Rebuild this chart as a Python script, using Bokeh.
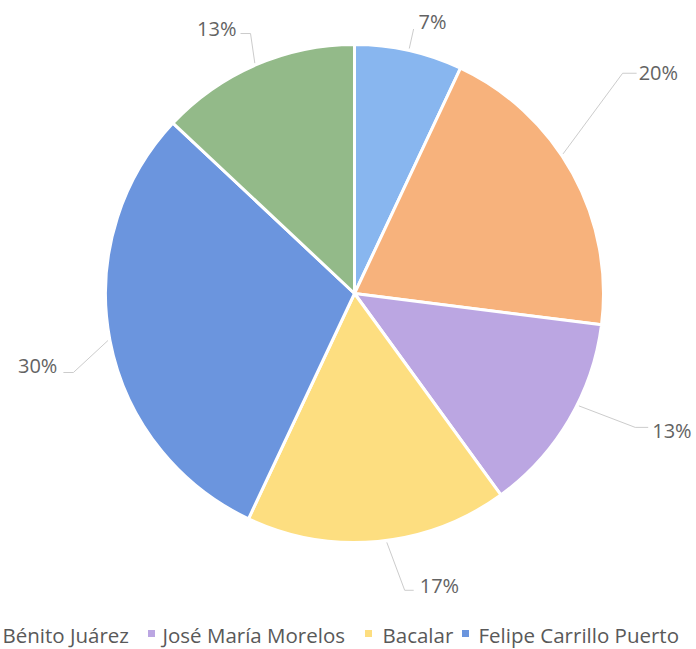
import math
from bokeh.plotting import figure
from bokeh.models import Range1d, ColumnDataSource
from bokeh.embed import file_html
from bokeh.resources import INLINE
from bokeh.core.properties import value

# ---- data ----
categories = ["Otro", "Bénito Juárez", "José María Morelos", "Bacalar",
              "Felipe Carrillo Puerto", "Otros"]
values = [7, 20, 13, 17, 30, 13]
pct_labels = ["7%", "20%", "13%", "17%", "30%", "13%"]
colors = ["#88b6ef", "#f7b27c", "#bba6e2", "#fdde80", "#6b95de", "#93ba89"]
legend_shown = [1, 2, 3, 4]          # entries of the legend visible in the picture

# ---- layout (picture pixel coordinates, y measured downward) ----
W, H = 696, 649
CX, CY, R = 354, 293, 249


def py(y):
    return H - y


p = figure(width=W, height=H, output_backend="svg", toolbar_location=None,
           x_range=Range1d(0, W), y_range=Range1d(0, H), min_border=0)
p.axis.visible = False
p.grid.visible = False
p.outline_line_color = None
p.background_fill_color = "white"
p.border_fill_color = "white"

total = float(sum(values))
starts, ends, mids = [], [], []
cum = 0.0
for v in values:
    a0 = cum / total * 360.0
    cum += v
    a1 = cum / total * 360.0
    starts.append(math.radians(90.0 - a0))
    ends.append(math.radians(90.0 - a1))
    mids.append((a0 + a1) / 2.0)

src = ColumnDataSource(dict(start=starts, end=ends, color=colors, cat=categories, val=values))
p.wedge(x=CX, y=py(CY), radius=R, start_angle="start", end_angle="end",
        direction="clock", fill_color="color", line_color="white", line_width=3,
        source=src)

# leader lines: start angle tweak, elbow (clockwise-from-top angle, distance), tick, text offset
lead_start = [mids[0], mids[1] - 5, mids[2] - 4, mids[3] - 2, mids[4], mids[5]]
elbow_ang = [12.6, 50.6, 115.5, 170.4, 254.3, 338.2]
elbow_dist = [271, 347, 311, 301, 292, 280]
tick = [0, 14, 13, 9, -10, -10]
text_dx = [5, 2, 4, 6, -6, -4]
text_dy = [-8, -1, 3, -5, -7, -5]


def pol(ang, d):
    a = math.radians(ang)
    return CX + d * math.sin(a), CY - d * math.cos(a)


lx, ly, tx, ty, talign = [], [], [], [], []
for i in range(len(values)):
    sx, sy = pol(lead_start[i], R + 2)
    ex, ey = pol(elbow_ang[i], elbow_dist[i])
    fx = ex + tick[i]
    lx.append([sx, ex, fx])
    ly.append([py(sy), py(ey), py(ey)])
    right = (elbow_ang[i] < 180)
    tx.append(fx + text_dx[i])
    ty.append(py(ey + text_dy[i]))
    talign.append("left" if right else "right")

p.multi_line(xs=lx, ys=ly, line_color="#cccccc", line_width=1)
lab = ColumnDataSource(dict(x=tx, y=ty, t=pct_labels, a=talign))
p.text(x="x", y="y", text="t", text_align="a", text_baseline="middle",
       text_font=value("Open Sans"), text_font_size="20px", text_color="#636363",
       source=lab)

# legend (manual, horizontal, cut at the left like the reference)
leg_text_x = [2, 162, 382, 478]
leg_mark_x = [None, 151, 368, 465]
LEG_Y = 634
for k, idx in enumerate(legend_shown):
    p.text(x=[leg_text_x[k]], y=[py(LEG_Y)], text=[categories[idx]],
           text_baseline="middle", text_font=value("Open Sans"),
           text_font_size="20.5px", text_color="#595959")
    if leg_mark_x[k] is not None:
        p.scatter(x=[leg_mark_x[k]], y=[py(LEG_Y - 1)], marker="square", size=7,
                  fill_color=colors[idx], line_color=None)

open("out.html", "w").write(file_html(p, INLINE))
